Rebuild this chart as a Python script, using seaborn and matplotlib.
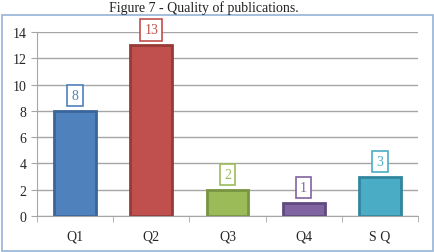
import matplotlib
matplotlib.use("Agg")
import matplotlib.pyplot as plt
import seaborn as sns
import pandas as pd
from matplotlib.patches import Rectangle

categories = ["Q1", "Q2", "Q3", "Q4", "S Q"]
values = [8, 13, 2, 1, 3]
fill_colors = ["#4F81BD", "#C0504D", "#9BBB59", "#8064A2", "#4BACC6"]
edge_colors = ["#3A659B", "#963B38", "#789440", "#5F4A7D", "#31869E"]

sns.set_style("white")
plt.rcParams["font.family"] = ["Liberation Serif", "DejaVu Serif"]

df = pd.DataFrame({"cat": categories, "val": values})

fig = plt.figure(figsize=(4.35, 2.53), dpi=100)
# outer border
fig.patches.append(Rectangle((2/435, 1/253), 431/435, 236/253, transform=fig.transFigure,
                             fill=False, edgecolor="#95B3D7", linewidth=1.2))
fig.text(204/435, 1 - 8/253, "Figure 7 - Quality of publications.", ha="center", va="center",
         fontsize=10, color="#222222")

ax = fig.add_axes([37/435, 1 - 217/253, (418-37)/435, (217-33)/253])
sns.barplot(data=df, x="cat", y="val", hue="cat", palette=fill_colors, legend=False,
            width=0.55, ax=ax, saturation=1)
for p, ec in zip(ax.patches, edge_colors):
    p.set_edgecolor(ec)
    p.set_linewidth(2)

ax.set_ylim(0, 14)
ax.set_xlim(-0.5, 4.5)
ax.set_yticks(range(0, 15, 2))
ax.yaxis.grid(True, color="#A6A6A6", linewidth=1)
ax.set_axisbelow(True)
for s in ["top", "right"]:
    ax.spines[s].set_visible(False)
ax.spines["left"].set_color("#A6A6A6")
ax.spines["bottom"].set_color("#A6A6A6")
ax.set_xlabel("")
ax.set_ylabel("")
ax.set_xticks(range(5))
ax.set_xticklabels(categories)
ax.tick_params(axis="x", length=0, pad=10, labelsize=10)
ax.tick_params(axis="y", length=4, color="#A6A6A6", labelsize=10, left=True)
# minor ticks at boundaries
ax.set_xticks([-0.5, 0.5, 1.5, 2.5, 3.5, 4.5], minor=True)
ax.tick_params(axis="x", which="minor", length=4, color="#A6A6A6", bottom=True, direction="out")

for i, (v, ec, fc) in enumerate(zip(values, edge_colors, fill_colors)):
    ax.annotate(str(v), (i, v), xytext=(0, 11), textcoords="offset points",
                ha="center", va="center", fontsize=10, color=fc,
                bbox=dict(boxstyle="square,pad=0.3", fc="white", ec=fc, lw=1.2))

fig.savefig("out.png", dpi=100)
